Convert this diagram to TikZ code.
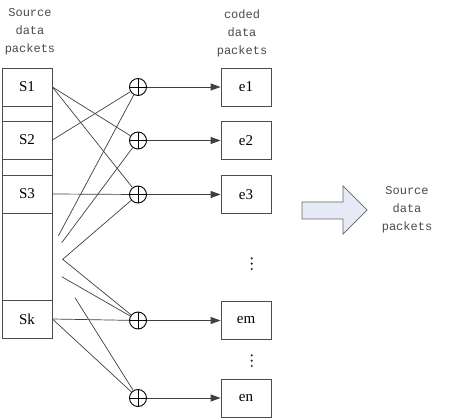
\documentclass[tikz,border=0pt]{standalone}
\usepackage{fontspec}
\setmainfont{Liberation Serif}
\newfontfamily\lblfont{Liberation Mono}
\usetikzlibrary{arrows.meta}
\definecolor{lblgray}{HTML}{4A4A4A}
\definecolor{arrowfill}{HTML}{E6EAF6}
\tikzset{
  pkt/.style={draw=black!70, line width=0.8pt, minimum width=50pt, minimum height=38pt, inner sep=0pt, font=\fontsize{15}{15}\selectfont},
  xorop/.style={circle, draw=black, line width=0.9pt, minimum size=17pt, inner sep=0pt,
    path picture={\draw[line width=0.9pt] (path picture bounding box.north) -- (path picture bounding box.south)
      (path picture bounding box.west) -- (path picture bounding box.east);}},
  link/.style={draw=black!75, line width=0.7pt},
  flow/.style={draw=black!75, line width=0.8pt, -{Triangle[length=10pt,width=7pt]}},
  lbl/.style={text=lblgray, font=\lblfont\fontsize{12}{18}\selectfont, align=center, inner sep=0pt},
  dotmark/.style={fill=black!85},
}
\begin{document}
\begin{tikzpicture}[x=1pt,y=-1pt]
\useasboundingbox (0,0) rectangle (457,419);
% labels
\node[lbl] (srclbl) at (30,32) {Source\\data\\packets};
\node[lbl] (codlbl) at (242,33) {coded\\data\\packets};
\node[lbl] (outlbl) at (407,210) {Source\\data\\packets};
% source column
\draw[draw=black!70, line width=0.8pt] (2,68) rectangle (52,338);
\node[pkt] (S1) at (27,87) {S1};
\node[pkt] (S2) at (27,140) {S2};
\node[pkt] (S3) at (27,194) {S3};
\node[pkt] (Sk) at (27,319) {Sk};
% xor nodes
\node[xorop] (x1) at (138,87) {};
\node[xorop] (x2) at (138,140.5) {};
\node[xorop] (x3) at (138,194.5) {};
\node[xorop] (xm) at (138,320.5) {};
\node[xorop] (xn) at (138,398) {};
% coded boxes
\node[pkt] (e1) at (246,87) {e1};
\node[pkt] (e2) at (246,140.5) {e2};
\node[pkt] (e3) at (246,194.5) {e3};
\node[pkt] (em) at (246,320.5) {em};
\node[pkt] (en) at (246,398) {en};
% vertical dots
\foreach \yy in {258.3,263.6,269,355.3,360.7,366}
  \fill[dotmark] (251.7,\yy) circle (1.2pt);
% arrows
\foreach \a/\b in {x1/e1,x2/e2,x3/e3,xm/em,xn/en}
  \draw[flow] (\a) -- (\b);
% free ends
\coordinate (a1) at (58.3,236);
\coordinate (a2) at (61.7,242.7);
\coordinate (v) at (62.7,259.3);
\coordinate (a4) at (61.7,276.7);
\coordinate (a5) at (75,297.7);
% links
\draw[link] (S1.east) -- (x2);
\draw[link] (S1.east) -- (x3);
\draw[link] (S2.east) -- (x1);
\draw[link] (S3.east) -- (x3);
\draw[link] (a1) -- (x1);
\draw[link] (a2) -- (x2);
\draw[link] (x3) -- (v) -- (xm);
\draw[link] (a4) -- (xm);
\draw[link] (a5) -- (xn);
\draw[link] (Sk.east) -- (xm);
\draw[link] (Sk.east) -- (xn);
% big arrow
\draw[draw=black!60, fill=arrowfill, line width=0.7pt]
  (302,202) -- (343,202) -- (343,186) -- (367,210) -- (343,234) -- (343,219) -- (302,219) -- cycle;
\end{tikzpicture}
\end{document}
